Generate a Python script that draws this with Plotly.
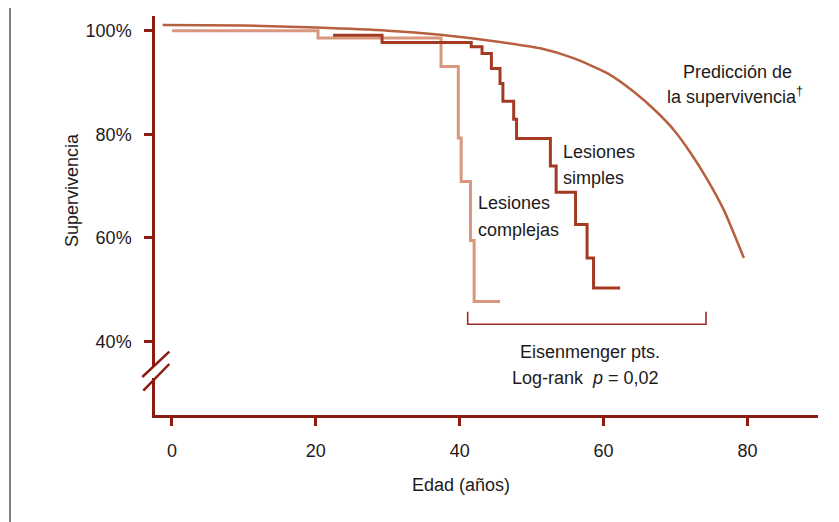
import plotly.graph_objects as go

# ---- data ----
pred_age = [-1.3, 10.0, 20.1, 30.0, 37.3, 44.0, 51.2, 55.8, 60.5, 64.2, 67.4, 69.9, 72.1, 74.4, 76.7, 79.5]
pred_surv = [101.1, 101.0, 100.6, 100.0, 99.2, 98.1, 96.6, 94.7, 91.8, 88.2, 84.3, 80.6, 76.4, 71.3, 65.4, 56.1]

simple_age = [22.4, 29.2, 41.6, 43.1, 44.4, 45.6, 46.0, 47.5, 47.9, 52.6, 53.4, 56.1, 57.7, 58.6, 62.3]
simple_surv = [99.1, 97.7, 96.9, 95.6, 92.7, 89.8, 86.4, 82.9, 79.2, 73.9, 68.8, 62.6, 56.1, 50.3, 50.3]

complex_age = [0.0, 20.3, 37.4, 39.8, 40.2, 41.5, 42.0, 45.6]
complex_surv = [100.0, 98.6, 93.1, 79.3, 70.9, 59.5, 47.7, 47.7]

x_ticks = [0, 20, 40, 60, 80]
y_ticks = [40, 60, 80, 100]
y_tick_labels = ["40%", "60%", "80%", "100%"]

# ---- styling ----
OFF = 8                      # page body margin in the browser
W, H = 839 - OFF, 522 - OFF
L, R, T, B = 155 - OFF, 21, 16 - OFF, 107
AXIS = "#8E1B12"
TXT = "#1E1A1B"
FONT = "Liberation Sans, Arial, Helvetica, sans-serif"
FS = 18

def px(sx):
    return (sx - OFF - L) / (W - L - R)

def py(sy):
    return (H - B - (sy - OFF)) / (H - T - B)

fig = go.Figure()
fig.add_trace(go.Scatter(x=pred_age, y=pred_surv, mode="lines",
                         line=dict(color="#B7603F", width=2.5, shape="spline", smoothing=0.6),
                         hoverinfo="skip", showlegend=False))
fig.add_trace(go.Scatter(x=complex_age, y=complex_surv, mode="lines",
                         line=dict(color="#D9977D", width=3, shape="hv"),
                         hoverinfo="skip", showlegend=False))
fig.add_trace(go.Scatter(x=simple_age, y=simple_surv, mode="lines",
                         line=dict(color="#A33A22", width=3, shape="hv"),
                         hoverinfo="skip", showlegend=False))

fig.update_layout(
    width=W, height=H, autosize=False,
    margin=dict(l=L, r=R, t=T, b=B),
    paper_bgcolor="white", plot_bgcolor="white",
    font=dict(family=FONT, size=FS, color=TXT),
    xaxis=dict(range=[-2.36, 89.8], tickvals=x_ticks, showgrid=False, zeroline=False,
               showline=True, linecolor=AXIS, linewidth=2.5,
               ticks="outside", ticklen=8, tickwidth=2.5, tickcolor=AXIS,
               ticklabelstandoff=10, tickfont=dict(family=FONT, size=FS, color=TXT)),
    yaxis=dict(range=[25.8, 102.84], tickvals=y_ticks, ticktext=y_tick_labels,
               showgrid=False, zeroline=False,
               showline=True, linecolor=AXIS, linewidth=2.5,
               ticks="outside", ticklen=8, tickwidth=2.5, tickcolor=AXIS,
               ticklabelstandoff=9, tickfont=dict(family=FONT, size=FS, color=TXT)),
)

shapes = []
# gap in y axis for the break
shapes.append(dict(type="rect", xref="paper", yref="paper",
                   x0=px(152), x1=px(158), y0=py(378), y1=py(366),
                   fillcolor="white", line=dict(width=0), layer="above"))
# break slashes
shapes.append(dict(type="line", xref="paper", yref="paper",
                   x0=px(142.3), y0=py(377), x1=px(169.3), y1=py(351.7),
                   line=dict(color=AXIS, width=2.5), layer="above"))
shapes.append(dict(type="line", xref="paper", yref="paper",
                   x0=px(143.3), y0=py(390.7), x1=px(169.3), y1=py(364),
                   line=dict(color=AXIS, width=2.5), layer="above"))
# bracket
shapes.append(dict(type="path", xref="paper", yref="paper",
                   path=f"M {px(467.7)},{py(311.7)} L {px(467.7)},{py(324.3)} L {px(706)},{py(324.3)} L {px(706)},{py(311.7)}",
                   line=dict(color="#9B2A2A", width=1.6), layer="above"))
# page border line on the far left
shapes.append(dict(type="line", xref="paper", yref="paper",
                   x0=px(10), y0=py(8), x1=px(10), y1=py(522),
                   line=dict(color="#555555", width=1.5)))
fig.update_layout(shapes=shapes)

def ann(text, x, y, xanchor="center", angle=0):
    fig.add_annotation(text=text, xref="paper", yref="paper", x=px(x), y=py(y),
                       xanchor=xanchor, yanchor="middle", showarrow=False,
                       textangle=angle, font=dict(family=FONT, size=FS, color=TXT))

ann("Predicción de", 737, 72)
ann("la supervivencia<sup>†</sup>", 735, 95)
ann("Lesiones", 561, 152, xanchor="left")
ann("simples", 561, 178, xanchor="left")
ann("Lesiones", 476, 203, xanchor="left")
ann("complejas", 476, 230, xanchor="left")
ann("Eisenmenger pts.", 590, 352)
ann("Log-rank  <i>p</i> = 0,02", 585, 378)
ann("Supervivencia", 72, 190, angle=-90)
ann("Edad (años)", 461, 485)

fig.write_html("out.html")
